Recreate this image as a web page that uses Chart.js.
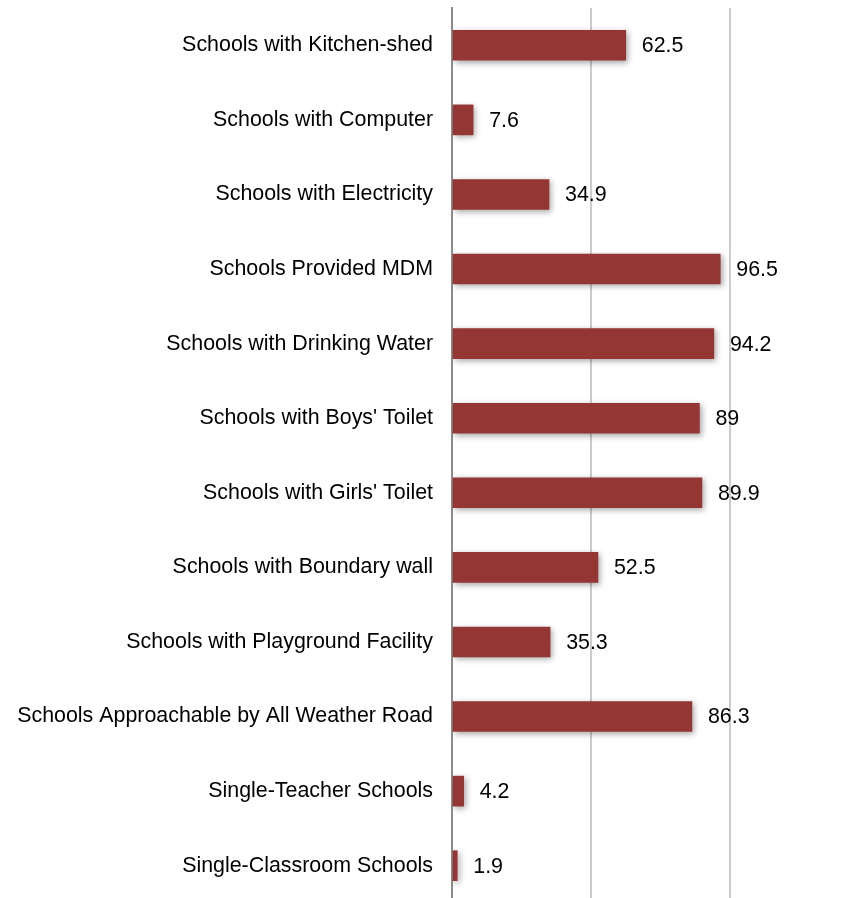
<!DOCTYPE html>
<html>
<head>
<meta charset="utf-8">
<script src="https://cdn.jsdelivr.net/npm/chart.js@4/dist/chart.umd.min.js"></script>
<style>
  html, body { margin: 0; padding: 0; background: #fff; overflow: hidden; }
  #wrap { width: 865px; height: 898px; overflow: hidden; }
</style>
</head>
<body>
<div id="wrap"><canvas id="chart" width="869" height="903"></canvas></div>
<script>
const categories = [
    'Schools with Kitchen-shed',
    'Schools with Computer',
    'Schools with Electricity',
    'Schools Provided MDM',
    'Schools with Drinking Water',
    "Schools with Boys' Toilet",
    "Schools with Girls' Toilet",
    'Schools with Boundary wall',
    'Schools with Playground Facility',
    'Schools Approachable by All Weather Road',
    'Single-Teacher Schools',
    'Single-Classroom Schools',
];
const values = [62.5, 7.6, 34.9, 96.5, 94.2, 89, 89.9, 52.5, 35.3, 86.3, 4.2, 1.9];
const valueLabels = ['62.5', '7.6', '34.9', '96.5', '94.2', '89', '89.9', '52.5', '35.3', '86.3', '4.2', '1.9'];

const FONT = '"Liberation Sans", Arial, sans-serif';

// soft drop shadow under the bars
const barShadow = {
    id: 'barShadow',
    beforeDatasetsDraw(chart) {
        const ctx = chart.ctx;
        ctx.save();
        ctx.shadowColor = 'rgba(0,0,0,0.35)';
        ctx.shadowBlur = 6;
        ctx.shadowOffsetX = 2;
        ctx.shadowOffsetY = 2;
    },
    afterDatasetsDraw(chart) {
        chart.ctx.restore();
    },
};

const valueText = {
    id: 'valueText',
    afterDraw(chart) {
        const ctx = chart.ctx;
        const meta = chart.getDatasetMeta(0);
        ctx.save();
        ctx.font = '21.4px ' + FONT;
        ctx.fillStyle = '#000';
        ctx.textAlign = 'left';
        ctx.textBaseline = 'middle';
        meta.data.forEach((bar, i) => {
            ctx.fillText(valueLabels[i], bar.x + 16, bar.y + 1);
        });
        ctx.restore();
    },
};

new Chart(document.getElementById('chart'), {
    type: 'bar',
    data: {
        labels: categories,
        datasets: [
            {
                data: values,
                backgroundColor: '#943634',
                barThickness: 30,
            },
        ],
    },
    options: {
        indexAxis: 'y',
        responsive: false,
        animation: false,
        layout: { padding: { top: 8, right: 0, bottom: 0, left: 0 } },
        scales: {
            x: {
                min: 0,
                max: 150,
                afterFit: (scale) => {
                    scale.height = 0;
                    scale.paddingLeft = 0;
                    scale.paddingRight = 0;
                },
                ticks: { display: false, stepSize: 50 },
                border: { display: false },
                grid: {
                    drawTicks: false,
                    lineWidth: 2,
                    color: (ctx) => (ctx.tick && ctx.tick.value === 0 ? 'rgba(0,0,0,0)' : '#cccccc'),
                },
            },
            y: {
                afterFit: (scale) => {
                    scale.width = 452;
                    scale.paddingTop = 0;
                    scale.paddingBottom = 0;
                },
                ticks: {
                    padding: 19,
                    color: '#000',
                    font: { size: 21.4, family: FONT },
                },
                grid: { display: false, drawTicks: false },
                border: { display: true, color: '#8c8c8c', width: 2 },
            },
        },
        plugins: {
            legend: { display: false },
            title: { display: false },
            tooltip: { enabled: false },
        },
    },
    plugins: [barShadow, valueText],
});
</script>
</body>
</html>
